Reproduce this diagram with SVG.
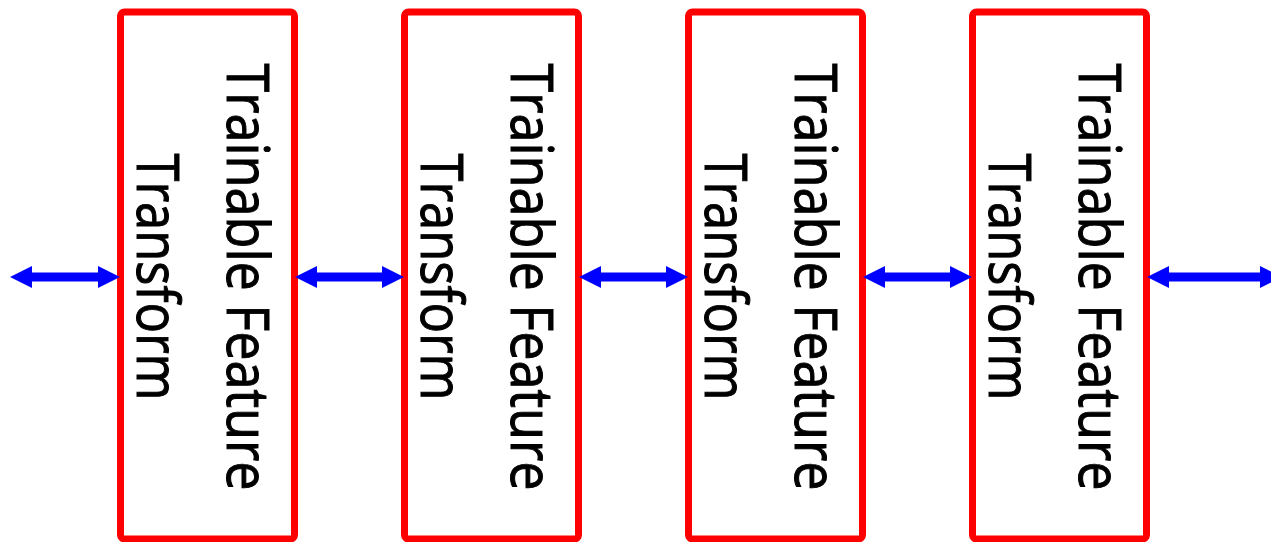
<svg xmlns="http://www.w3.org/2000/svg" width="1271" height="542" viewBox="0 0 1271 542">
<style>
.box{fill:#fff;stroke:#ff0000;stroke-width:7}
.lbl{font-family:"Open Sans","Noto Sans","Liberation Sans",sans-serif;font-size:59px;fill:#000;stroke:#000;stroke-width:1;text-anchor:middle}
.arr{stroke:#0000ff;stroke-width:9;fill:none;marker-start:url(#ah);marker-end:url(#ah)}
</style>
<defs>
<marker id="ah" markerUnits="userSpaceOnUse" markerWidth="22" markerHeight="22" viewBox="0 0 22 22" refX="2" refY="11" orient="auto-start-reverse">
<path d="M0,0 L22,11 L0,22 z" fill="#0000ff"/>
</marker>
</defs>
<rect width="1271" height="542" fill="#fff"/>
<g id="node1">
<rect class="box" x="120.5" y="12" width="174" height="527" rx="4"/>
<text class="lbl" transform="translate(227,277) rotate(90)" textLength="427" lengthAdjust="spacingAndGlyphs">Trainable Feature</text>
<text class="lbl" transform="translate(137,277) rotate(90)" textLength="247" lengthAdjust="spacingAndGlyphs">Transform</text>
</g>
<g id="node2">
<rect class="box" x="404.5" y="12" width="174" height="527" rx="4"/>
<text class="lbl" transform="translate(511,277) rotate(90)" textLength="427" lengthAdjust="spacingAndGlyphs">Trainable Feature</text>
<text class="lbl" transform="translate(421,277) rotate(90)" textLength="247" lengthAdjust="spacingAndGlyphs">Transform</text>
</g>
<g id="node3">
<rect class="box" x="688.5" y="12" width="174" height="527" rx="4"/>
<text class="lbl" transform="translate(795,277) rotate(90)" textLength="427" lengthAdjust="spacingAndGlyphs">Trainable Feature</text>
<text class="lbl" transform="translate(705,277) rotate(90)" textLength="247" lengthAdjust="spacingAndGlyphs">Transform</text>
</g>
<g id="node4">
<rect class="box" x="972.5" y="12" width="174" height="527" rx="4"/>
<text class="lbl" transform="translate(1079,277) rotate(90)" textLength="427" lengthAdjust="spacingAndGlyphs">Trainable Feature</text>
<text class="lbl" transform="translate(989,277) rotate(90)" textLength="247" lengthAdjust="spacingAndGlyphs">Transform</text>
</g>
<g id="connectors">
<line class="arr" x1="30" y1="277" x2="100" y2="277"/>
<line class="arr" x1="315" y1="277" x2="384" y2="277"/>
<line class="arr" x1="599" y1="277" x2="668" y2="277"/>
<line class="arr" x1="883" y1="277" x2="952" y2="277"/>
<line class="arr" x1="1167" y1="277" x2="1262" y2="277"/>
</g>
</svg>
